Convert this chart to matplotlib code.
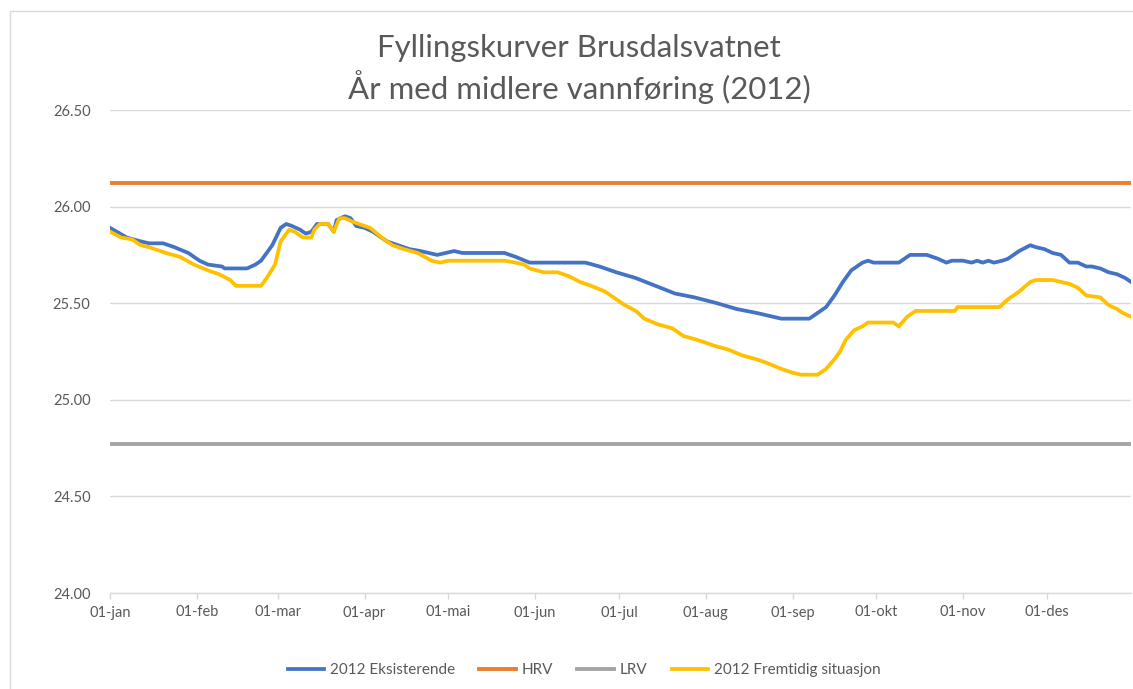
import matplotlib
matplotlib.use('Agg')
import matplotlib.pyplot as plt
from matplotlib.patches import Rectangle

plt.rcParams['font.family'] = ['Lato', 'DejaVu Sans']

# dag i året (0 = 01-jan 2012) og vannstand
blue_days = [0, 6, 11, 14, 19, 23, 28, 32, 35, 40,
             41, 49, 52, 54, 58, 61, 63, 65, 68, 70,
             72, 74, 78, 80, 81, 84, 86, 88, 91, 94,
             99, 103, 107, 111, 117, 123, 126, 141, 145, 150,
             170, 175, 181, 188, 195, 202, 209, 217, 224, 231,
             237, 240, 250, 253, 256, 259, 262, 265, 269, 271,
             273, 275, 282, 286, 292, 296, 299, 301, 305, 308,
             310, 312, 314, 316, 319, 321, 325, 329, 331, 334,
             337, 340, 343, 346, 349, 351, 354, 357, 360, 363,
             365]
blue_vals = [25.89, 25.84, 25.82, 25.81, 25.81, 25.79, 25.76, 25.72, 25.70, 25.69,
             25.68, 25.68, 25.70, 25.72, 25.80, 25.89, 25.91, 25.90, 25.88, 25.86,
             25.87, 25.91, 25.91, 25.87, 25.93, 25.95, 25.94, 25.90, 25.89, 25.87,
             25.82, 25.80, 25.78, 25.77, 25.75, 25.77, 25.76, 25.76, 25.74, 25.71,
             25.71, 25.69, 25.66, 25.63, 25.59, 25.55, 25.53, 25.50, 25.47, 25.45,
             25.43, 25.42, 25.42, 25.45, 25.48, 25.54, 25.61, 25.67, 25.71, 25.72,
             25.71, 25.71, 25.71, 25.75, 25.75, 25.73, 25.71, 25.72, 25.72, 25.71,
             25.72, 25.71, 25.72, 25.71, 25.72, 25.73, 25.77, 25.80, 25.79, 25.78,
             25.76, 25.75, 25.71, 25.71, 25.69, 25.69, 25.68, 25.66, 25.65, 25.63,
             25.61]

yellow_days = [0, 4, 8, 11, 14, 16, 20, 25, 30, 35,
               39, 43, 45, 54, 56, 59, 61, 64, 66, 69,
               72, 73, 75, 78, 80, 82, 84, 87, 91, 93,
               98, 101, 105, 110, 115, 118, 121, 124, 141, 145,
               148, 150, 155, 160, 164, 168, 172, 177, 180, 184,
               188, 191, 196, 201, 205, 210, 216, 221, 226, 231,
               235, 240, 244, 247, 253, 256, 259, 261, 263, 266,
               269, 271, 280, 282, 285, 288, 302, 303, 318, 321,
               325, 329, 331, 337, 340, 343, 346, 349, 354, 357,
               360, 362, 365]
yellow_vals = [25.87, 25.84, 25.83, 25.80, 25.79, 25.78, 25.76, 25.74, 25.70, 25.67,
               25.65, 25.62, 25.59, 25.59, 25.63, 25.70, 25.82, 25.88, 25.87, 25.84,
               25.84, 25.88, 25.91, 25.91, 25.87, 25.94, 25.94, 25.92, 25.90, 25.89,
               25.83, 25.80, 25.78, 25.76, 25.72, 25.71, 25.72, 25.72, 25.72, 25.71,
               25.70, 25.68, 25.66, 25.66, 25.64, 25.61, 25.59, 25.56, 25.53, 25.49,
               25.46, 25.42, 25.39, 25.37, 25.33, 25.31, 25.28, 25.26, 25.23, 25.21,
               25.19, 25.16, 25.14, 25.13, 25.13, 25.16, 25.21, 25.25, 25.31, 25.36,
               25.38, 25.40, 25.40, 25.38, 25.43, 25.46, 25.46, 25.48, 25.48, 25.52,
               25.56, 25.61, 25.62, 25.62, 25.61, 25.60, 25.58, 25.54, 25.53, 25.49,
               25.47, 25.45, 25.43]

ref_days = [0, 365]
hrv = [26.12, 26.12]
lrv = [24.77, 24.77]

month_days = [0, 31, 60, 91, 121, 152, 182, 213, 244, 274, 305, 335]
month_labels = ['01-jan', '01-feb', '01-mar', '01-apr', '01-mai', '01-jun',
                '01-jul', '01-aug', '01-sep', '01-okt', '01-nov', '01-des']
y_ticks = [24.0, 24.5, 25.0, 25.5, 26.0, 26.5]

fig = plt.figure(figsize=(11.33, 6.89), dpi=100)
ax = fig.add_axes([110 / 1133, 1 - 593 / 689, 1021 / 1133, 483 / 689])

# ramme rundt diagrammet
fig.patches.append(Rectangle((10 / 1133, -0.1), 1.2, 1 - 11 / 689 + 0.1,
                             transform=fig.transFigure, fill=False,
                             edgecolor='#d9d9d9', linewidth=1))

ax.plot(blue_days, blue_vals, color='#4472C4', lw=2.7, label='2012 Eksisterende',
        solid_joinstyle='round')
ax.plot(ref_days, hrv, color='#ED7D31', lw=2.8, label='HRV')
ax.plot(ref_days, lrv, color='#A5A5A5', lw=2.8, label='LRV')
ax.plot(yellow_days, yellow_vals, color='#FFC000', lw=2.7, label='2012 Fremtidig situasjon',
        solid_joinstyle='round')

ax.set_xlim(0, 365)
ax.set_ylim(24.0, 26.5)
ax.set_yticks(y_ticks)
ax.set_yticklabels(['%.2f' % v for v in y_ticks])
ax.set_xticks(month_days)
ax.set_xticklabels(month_labels)
ax.yaxis.grid(True, color='#d9d9d9', lw=1)
ax.set_axisbelow(True)
for s in ['left', 'right', 'top']:
    ax.spines[s].set_visible(False)
ax.spines['bottom'].set_color('#d9d9d9')
ax.spines['bottom'].set_linewidth(1)
ax.tick_params(axis='y', length=0, pad=14, labelsize=10.5, labelcolor='#595959')
ax.tick_params(axis='x', length=4, width=1, color='#d9d9d9', pad=5,
               labelsize=10.5, labelcolor='#595959')

fig.text(579 / 1133, 1 - 69 / 689, 'Fyllingskurver Brusdalsvatnet\nÅr med midlere vannføring (2012)',
         ha='center', va='center', fontsize=22.4, color='#595959', linespacing=1.25)

fig.legend(loc='center', bbox_to_anchor=(584 / 1133, 1 - 670 / 689), ncol=4, frameon=False,
           fontsize=11, labelcolor='#595959', handlelength=2.4, columnspacing=1.6,
           handletextpad=0.35)

fig.savefig('out.png', dpi=100)
